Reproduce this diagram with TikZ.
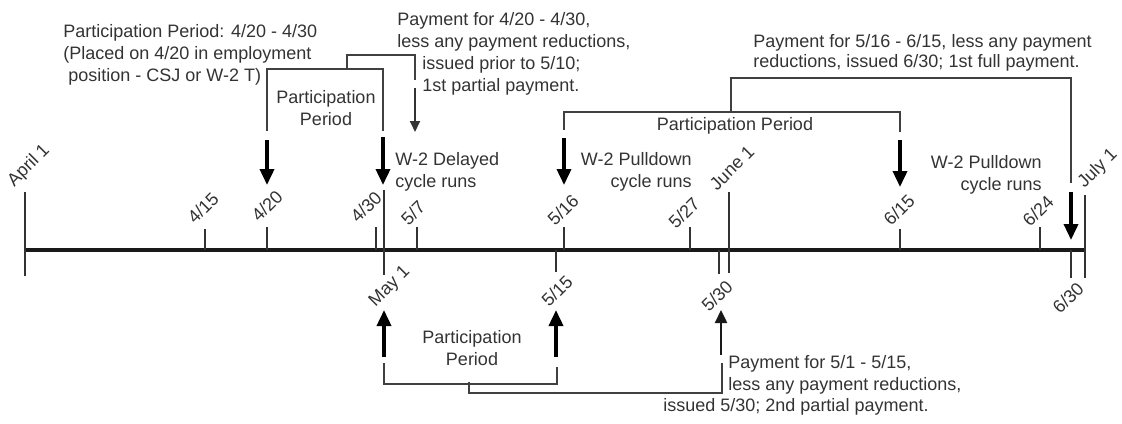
\documentclass[tikz,border=0pt]{standalone}
\usepackage{fontspec}
\setmainfont{Liberation Sans}
\usetikzlibrary{arrows.meta}
\newcommand\dlab[1]{\rotatebox{45}{#1}}
\begin{document}
\begin{tikzpicture}[x=0.5pt,y=-0.5pt,
  txt/.style={inner sep=0pt, text=black!80, font=\fontsize{9}{11}\selectfont},
  txtb/.style={inner sep=0pt, text=black!80, font=\fontsize{9}{10}\selectfont},
  lbl/.style={txt},
  axisline/.style={line width=2.3pt, black!90},
  tickline/.style={line width=1pt, black!80},
  brk/.style={line width=0.9pt, black!75},
  bigarrow/.style={line width=1.8pt, black, -{Triangle[length=8pt,width=7pt]}},
  thinarrow/.style={line width=0.9pt, black!80, -{Triangle[length=5.5pt,width=5pt]}},
  midarrow/.style={line width=1.2pt, black!90, -{Triangle[length=6.5pt,width=6pt]}},
]
\useasboundingbox (0,0) rectangle (1122,423);

% ---- axis ----
\coordinate (axL) at (25,250);
\coordinate (axR) at (1085,250);
\draw[axisline] (axL) -- (axR);

% ---- upper short ticks ----
\foreach \n/\x/\t in {t415/205/229, t420/267/227, t430/376/227, t507/417/227,
                      t516/564/227, t527/690/227, t615/900/229, t624/1040/227}{
  \coordinate (\n top) at (\x,\t);
  \coordinate (\n ax) at (\x,250);
  \draw[tickline] (\n top) -- (\n ax);
}
% ---- long ticks ----
\foreach \n/\x/\t/\b in {tapr/25/192/276, tmay/384/190/275, tjun/729/192/273, tjul/1085/195/278}{
  \coordinate (\n top) at (\x,\t);
  \coordinate (\n bot) at (\x,\b);
  \draw[tickline] (\n top) -- (\n bot);
}
% ---- lower short ticks ----
\foreach \n/\x/\b in {t515/556/272, t530/719/274, t630/1071/278}{
  \coordinate (\n ax) at (\x,250);
  \coordinate (\n bot) at (\x,\b);
  \draw[tickline] (\n ax) -- (\n bot);
}

% ---- date labels ----
\node[lbl] (lapr) at (29,166) {\dlab{April 1}};
\node[lbl] (l415) at (203,208) {\dlab{4/15}};
\node[lbl] (l420) at (267,206) {\dlab{4/20}};
\node[lbl] (l430) at (366,207) {\dlab{4/30}};
\node[lbl] (l507) at (413,213) {\dlab{5/7}};
\node[lbl] (lmay) at (390,287) {\dlab{May 1}};
\node[lbl] (l516) at (563,210) {\dlab{5/16}};
\node[lbl] (l515) at (557,291) {\dlab{5/15}};
\node[lbl] (l527) at (684,213) {\dlab{5/27}};
\node[lbl] (ljun) at (732,168) {\dlab{June 1}};
\node[lbl] (l530) at (717,296) {\dlab{5/30}};
\node[lbl] (l615) at (899,210) {\dlab{6/15}};
\node[lbl] (l624) at (1038,211) {\dlab{6/24}};
\node[lbl] (l630) at (1068,298) {\dlab{6/30}};
\node[lbl] (ljul) at (1098,169) {\dlab{July 1}};

% ---- thick down arrows ----
\coordinate (d420s) at (267,140); \coordinate (d420e) at (267,185);
\coordinate (d430s) at (383,137); \coordinate (d430e) at (383,185);
\coordinate (d516s) at (564,138); \coordinate (d516e) at (564,185);
\coordinate (d615s) at (900,140); \coordinate (d615e) at (900,187);
\coordinate (d630s) at (1071,192); \coordinate (d630e) at (1071,240);
\draw[bigarrow] (d420s) -- (d420e);
\draw[bigarrow] (d430s) -- (d430e);
\draw[bigarrow] (d516s) -- (d516e);
\draw[bigarrow] (d615s) -- (d615e);
\draw[bigarrow] (d630s) -- (d630e);

% ---- up arrows ----
\coordinate (umays) at (384,357); \coordinate (umaye) at (384,310);
\coordinate (u515s) at (556,357); \coordinate (u515e) at (556,310);
\coordinate (u530s) at (721,355); \coordinate (u530e) at (721,310);
\draw[bigarrow] (umays) -- (umaye);
\draw[bigarrow] (u515s) -- (u515e);
\draw[midarrow] (u530s) -- (u530e);

% ---- thin arrow (1st partial payment) ----
\coordinate (pay1s) at (415,88); \coordinate (pay1e) at (415,132);
\draw[thinarrow] (pay1s) -- (pay1e);

% ---- brackets ----
\draw[brk] (267,131) -- (267,69) -- (383,69) -- (383,131);
\draw[brk] (347,69) -- (347,55) -- (415,55) -- (415,80);
\draw[brk] (564,130) -- (564,112) -- (900,112) -- (900,132);
\draw[brk] (731,112) -- (731,78) -- (1071,78) -- (1071,183);
\draw[brk] (384,363) -- (384,384) -- (557,384) -- (557,367);
\draw[brk] (469,382) -- (469,393) -- (722,393) -- (722,363);

% ---- texts ----
\node[txt, anchor=west, align=left] (ptop) at (63,55)
  {Participation Period: 4/20 - 4/30\\(Placed on 4/20 in employment\\\hspace*{2.5pt}position - CSJ or W-2 T)};
\node[txt, align=center] (pp1) at (326,108) {Participation\\Period};
\node[txt, anchor=west, align=left] (pay1a) at (397,32)
  {Payment for 4/20 - 4/30,\\less any payment reductions,};
\node[txt, anchor=west, align=left] (pay1b) at (422,76)
  {issued prior to 5/10;\\1st partial payment.};
\node[txt, anchor=west, align=left] (w2d) at (395,172) {W-2 Delayed\\cycle runs};
\node[txt, anchor=east, align=right] (w2p1) at (692,172) {W-2 Pulldown\\cycle runs};
\node[txt] (pp2) at (735,126) {Participation Period};
\node[txtb, anchor=west, align=left] (pay3) at (753,53)
  {Payment for 5/16 - 6/15, less any payment\\reductions, issued 6/30; 1st full payment.};
\node[txt, anchor=east, align=right] (w2p2) at (1042,175) {W-2 Pulldown\\cycle runs};
\node[txt, align=center] (pp3) at (472,348) {Participation\\Period};
\node[txt, anchor=west, align=left] (pay2a) at (728,375)
  {Payment for 5/1 - 5/15,\\less any payment reductions,};
\node[txt, anchor=west] (pay2b) at (663,407) {issued 5/30; 2nd partial payment.};
\end{tikzpicture}
\end{document}
